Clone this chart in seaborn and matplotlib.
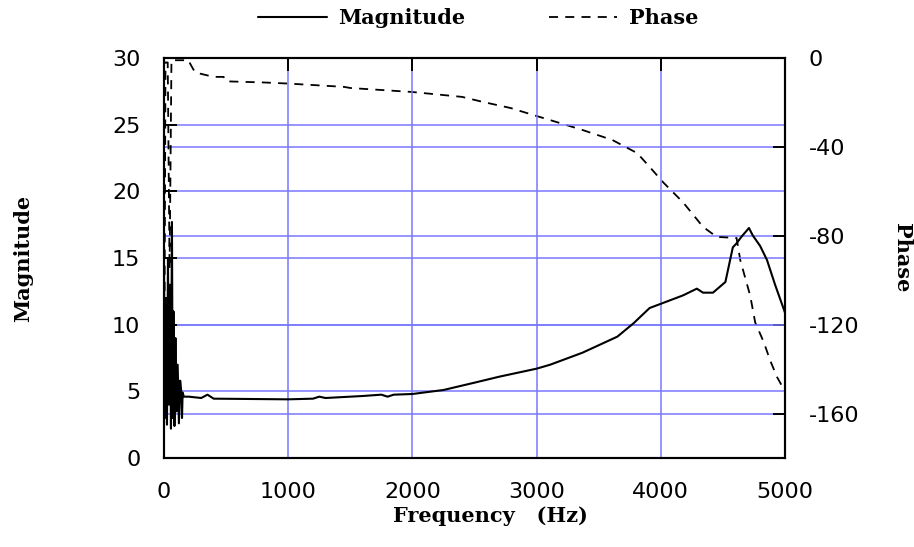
import numpy as np
import pandas as pd
import matplotlib
matplotlib.use("Agg")
import matplotlib.pyplot as plt
import seaborn as sns

# Magnitude curve
mag_freq = [0, 8, 16, 24, 32, 40, 48, 56, 64, 70, 76, 84, 92, 100, 110, 120, 130, 140, 145, 150, 160,
            200, 300, 350, 400, 1000, 1200, 1250, 1300, 1600, 1750, 1800, 1850, 2000, 2250, 2500,
            2700, 2900, 3000, 3110, 3370, 3650, 3780, 3910, 4010, 4180, 4290, 4340, 4420, 4520,
            4580, 4610, 4650, 4710, 4740, 4800, 4855, 4920, 5000]
mag_vals = [14, 3, 12, 2.5, 15, 4, 13, 2.2, 17.7, 3.0, 11, 2.4, 9, 3.5, 7, 2.6, 5.8, 4.9, 3.0, 4.9, 4.6,
            4.6, 4.5, 4.75, 4.45, 4.4, 4.45, 4.6, 4.5, 4.65, 4.75, 4.6, 4.75, 4.8, 5.1, 5.65,
            6.1, 6.5, 6.7, 7.0, 7.9, 9.1, 10.1, 11.25, 11.6, 12.2, 12.7, 12.4, 12.4, 13.2,
            15.8, 16.1, 16.6, 17.25, 16.7, 15.9, 14.85, 13.0, 10.9]

# Phase curve (degrees)
ph_freq = [0, 12, 30, 45, 60, 200, 210, 250, 400, 480, 500, 800, 1000, 1450, 1500, 2000, 2400,
           2570, 2790, 2970, 3160, 3370, 3610, 3810, 3910, 4020, 4180, 4340, 4450, 4610, 4640,
           4720, 4760, 4830, 4880, 4935, 5000]
ph_vals = [-178, -2, -2, -95, -1, -1, -2.5, -6.5, -8.5, -8.5, -10.5, -11, -11.5, -13, -13.5, -15.3, -17.5,
           -19.8, -22.5, -25.6, -28.8, -32.4, -36.9, -42.8, -49, -56, -65, -76, -80.5, -81, -91,
           -107, -119, -128, -136, -143.5, -150]

mag_ticks = [0, 5, 10, 15, 20, 25, 30]
ph_ticks = [0, -40, -80, -120, -160]
freq_ticks = [0, 1000, 2000, 3000, 4000, 5000]

mag_df = pd.DataFrame({"Frequency": mag_freq, "Magnitude": mag_vals})
ph_df = pd.DataFrame({"Frequency": ph_freq, "Phase": ph_vals})

sns.set_style("white")
plt.rcParams["font.family"] = ["DejaVu Sans"]
plt.rcParams["axes.unicode_minus"] = False
for k in ("text.color", "axes.labelcolor", "xtick.color", "ytick.color"):
    plt.rcParams[k] = "black"
grid_col = "#7878ff"
label_font = dict(family="DejaVu Serif", weight="bold", size=15)

fig = plt.figure(figsize=(9.14, 5.47), dpi=100)
ax = fig.add_axes([164 / 914, 1 - 458 / 547, 621 / 914, 400 / 547])
ax2 = ax.twinx()

sns.lineplot(data=mag_df, x="Frequency", y="Magnitude", ax=ax, color="black", lw=1.5,
             sort=False, estimator=None, label="Magnitude")
sns.lineplot(data=ph_df, x="Frequency", y="Phase", ax=ax2, color="black", lw=1.3,
             sort=False, estimator=None, label="Phase", dashes=False)
ax2.lines[0].set_dashes((5, 4))

ax.set_xlim(0, 5000)
ax.set_ylim(0, 30)
ax2.set_ylim(-180, 0)
ax.set_xticks(freq_ticks)
ax.set_yticks(mag_ticks)
ax2.set_yticks(ph_ticks)

for a in (ax, ax2):
    a.grid(True, color=grid_col, lw=1.1)
    a.set_axisbelow(True)
    for s in a.spines.values():
        s.set_linewidth(1.5)
        s.set_color("black")
ax2.grid(False, axis="x")
ax.set_zorder(ax2.get_zorder() + 1)
ax.patch.set_visible(False)

ax.tick_params(axis="both", direction="in", length=9, width=1.4, labelsize=16, pad=17,
               top=True, right=False, colors="black")
ax2.tick_params(axis="y", direction="in", length=9, width=1.4, labelsize=16, pad=17, colors="black")

ax.set_xlabel("Frequency   (Hz)", fontdict=label_font)
ax.xaxis.set_label_coords(0.525, -0.12)
ax.set_ylabel("Magnitude", fontdict=label_font)
ax.yaxis.set_label_coords(-0.21, 0.5)
ax2.set_ylabel("Phase", fontdict=label_font, rotation=270, va="center")
ax2.yaxis.set_label_coords(1.188, 0.5)

h1, l1 = ax.get_legend_handles_labels()
h2, l2 = ax2.get_legend_handles_labels()
ax.get_legend().remove()
ax2.get_legend().remove()
fig.legend(h1 + h2, l1 + l2, loc="center", bbox_to_anchor=(478 / 914, 1 - 18 / 547), ncol=2,
           frameon=False, handlelength=3.3, handletextpad=0.55, columnspacing=4,
           prop=dict(family="DejaVu Serif", weight="bold", size=15))

fig.savefig("out.png", dpi=100)
